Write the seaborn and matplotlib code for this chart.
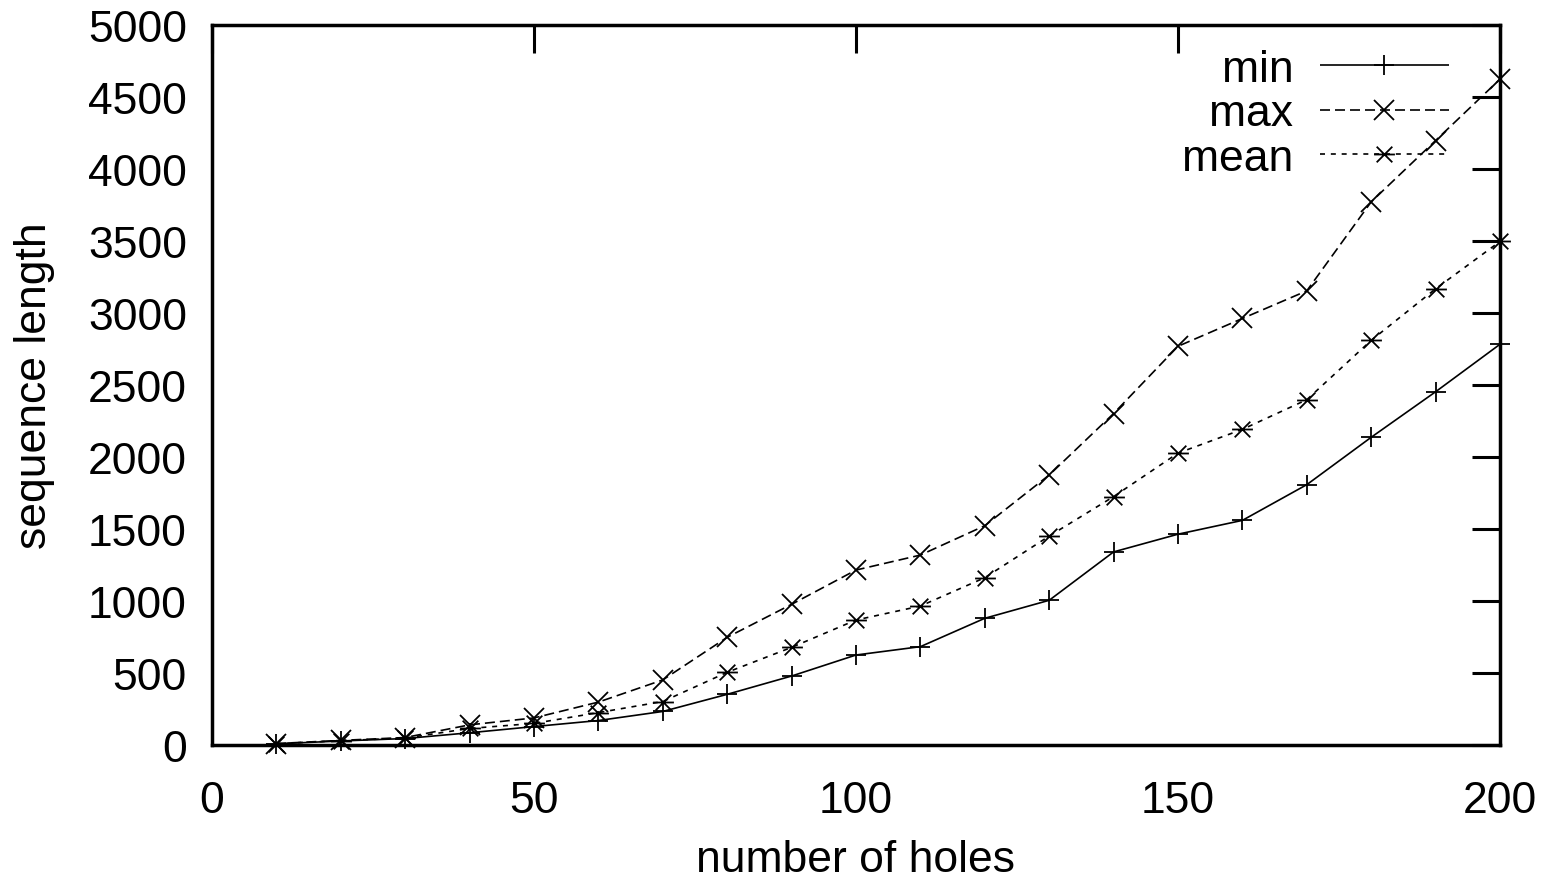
import numpy as np
import pandas as pd
import matplotlib
matplotlib.use('Agg')
import matplotlib.pyplot as plt
from matplotlib.path import Path
import seaborn as sns

# data
holes = [10, 20, 30, 40, 50, 60, 70, 80, 90, 100,
         110, 120, 130, 140, 150, 160, 170, 180, 190, 200]
min_len = [8, 28, 45, 85, 128, 170, 233, 352, 479, 625,
           683, 880, 1005, 1341, 1464, 1560, 1808, 2137, 2453, 2783]
max_len = [10, 32, 52, 140, 188, 298, 452, 748, 977, 1215,
           1319, 1523, 1875, 2302, 2769, 2962, 3154, 3772, 4198, 4624]
mean_len = [9, 30, 48, 115, 150, 225, 302, 505, 678, 868,
            965, 1162, 1451, 1725, 2027, 2192, 2398, 2810, 3168, 3497]

x_ticks = [0, 50, 100, 150, 200]
y_ticks = list(range(0, 5001, 500))

# gnuplot style asterisk: horizontal bar plus an x
star = Path([(-1, 0), (1, 0), (-0.75, -0.75), (0.75, 0.75), (-0.75, 0.75), (0.75, -0.75)],
            [Path.MOVETO, Path.LINETO, Path.MOVETO, Path.LINETO, Path.MOVETO, Path.LINETO])

sns.set_style('white')
plt.rcParams['font.family'] = ['Liberation Sans', 'DejaVu Sans']
plt.rcParams['font.size'] = 32
plt.rcParams['text.color'] = 'black'
plt.rcParams['axes.labelcolor'] = 'black'

fig = plt.figure(figsize=(15.44, 8.79), dpi=100)
ax = fig.add_axes([0.1373, 0.1513, 0.9715 - 0.1373, 0.9704 - 0.1513])

series = [
    ('min', min_len, '+', (0, ()), 15),
    ('max', max_len, 'x', (0, (6, 3)), 14),
    ('mean', mean_len, star, (0, (3, 3.5)), 15),
]
for label, vals, mk, ls, ms in series:
    sns.lineplot(x=holes, y=vals, ax=ax, color='black', linewidth=1.2,
                 linestyle=ls, marker=mk, markersize=ms, markeredgewidth=1.3,
                 markeredgecolor='black', markerfacecolor='none',
                 label=label, clip_on=False, zorder=3)

ax.set_xlim(0, 200)
ax.set_ylim(0, 5000)
ax.set_xticks(x_ticks)
ax.set_yticks(y_ticks)
ax.tick_params(direction='in', length=20, width=2.2, top=True, right=True,
               labelsize=32, colors='black')
ax.tick_params(axis='x', pad=25)
ax.tick_params(axis='y', pad=18)
for sp in ax.spines.values():
    sp.set_linewidth(2.5)
    sp.set_color('black')

ax.set_xlabel('number of holes', fontsize=32, labelpad=13)
ax.set_ylabel('sequence length', fontsize=32, labelpad=24)

leg = ax.legend(loc='upper right', frameon=False, markerfirst=False,
                handlelength=2.9, handletextpad=0.6, fontsize=32,
                labelspacing=0.08, borderaxespad=0.0,
                bbox_to_anchor=(0.974, 0.992))
for t in leg.get_texts():
    t.set_ha('right')
leg._legend_box.align = 'right'

fig.savefig('out.png', dpi=100)
